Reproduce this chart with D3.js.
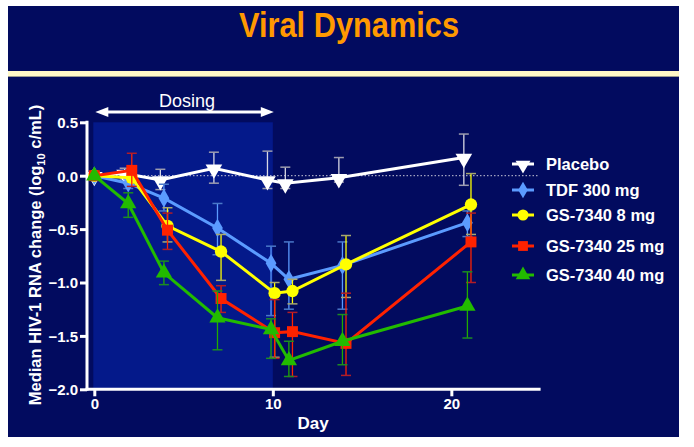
<!DOCTYPE html>
<html><head><meta charset="utf-8">
<script src="https://cdn.jsdelivr.net/npm/d3@7"></script>
<style>html,body{margin:0;padding:0;background:#fff;}svg{display:block;}</style>
</head><body>
<svg id="c" width="694" height="447"></svg>
<script>
const days = [0, 2, 4, 7, 10, 11, 14, 21];
const seriesNames = ["Placebo", "TDF 300 mg", "GS-7340 8 mg", "GS-7340 25 mg", "GS-7340 40 mg"];
const placebo   = [0, 0.02, -0.04, 0.07, -0.04, -0.07, -0.02, 0.17];
const placeboHi = [0, 0.07, 0.06, 0.22, 0.23, 0.08, 0.17, 0.39];
const placeboLo = [0, -0.03, -0.13, -0.07, -0.12, -0.12, -0.06, -0.09];
const tdf   = [0, -0.07, -0.21, -0.49, -0.82, -0.97, -0.84, -0.44];
const tdfHi = [0, -0.03, -0.08, -0.26, -0.66, -0.62, -0.62, -0.33];
const tdfLo = [0, -0.12, -0.33, -0.74, -1.31, -1.25, -1.25, -0.57];
const gs8   = [0, -0.02, -0.47, -0.71, -1.10, -1.08, -0.83, -0.27];
const gs8Hi = [0, 0.02, -0.30, -0.55, -1.00, -0.97, -0.56, 0.02];
const gs8Lo = [0, -0.06, -0.62, -0.98, -1.70, -1.20, -1.14, -0.55];
const gs25   = [0, 0.05, -0.51, -1.15, -1.47, -1.46, -1.57, -0.62];
const gs25Hi = [0, 0.21, -0.35, -1.03, -1.16, -1.28, -1.10, -0.35];
const gs25Lo = [0, -0.10, -0.69, -1.28, -1.71, -1.88, -1.87, -1.00];
const gs40   = [0, -0.26, -0.91, -1.33, -1.44, -1.73, -1.55, -1.22];
const gs40Hi = [0, -0.16, -0.80, -1.08, -1.34, -1.55, -1.30, -0.90];
const gs40Lo = [0, -0.39, -1.02, -1.63, -1.71, -1.88, -1.77, -1.52];
const xTicks = [0, 10, 20];
const yTicks = [0.5, 0.0, -0.5, -1.0, -1.5, -2.0];

const svg = d3.select("#c");
const x = d3.scaleLinear().domain([0, 25]).range([94.3, 540.6]);
const y = d3.scaleLinear().domain([-2, 0.5]).range([389.3, 122.3]);

// background
svg.append("rect").attr("x", 8).attr("y", 6).attr("width", 671).attr("height", 431).attr("fill", "#020b5f");
svg.append("rect").attr("x", 8).attr("y", 71).attr("width", 671).attr("height", 5).attr("fill", "#fff8c8");
svg.append("rect").attr("x", 8).attr("y", 76).attr("width", 671).attr("height", 1).attr("fill", "#9a9a90");

svg.append("text").attr("x", 349).attr("y", 37).attr("text-anchor", "middle")
  .attr("font-family", "'Liberation Sans Narrow','Arial Narrow','Liberation Sans',sans-serif").attr("font-weight", "bold")
  .attr("font-size", 35).attr("textLength", 220).attr("lengthAdjust", "spacingAndGlyphs")
  .attr("fill", "#ff9900").text("Viral Dynamics");

// dosing region
svg.append("rect").attr("x", x(0) - 1).attr("y", y(0.5)).attr("width", x(10) - x(0) + 1)
  .attr("height", y(-2) - y(0.5)).attr("fill", "#04198a");

// dosing arrow
const ay = 112;
svg.append("line").attr("x1", x(0) + 8).attr("x2", x(10) - 8).attr("y1", ay).attr("y2", ay)
  .attr("stroke", "#fff").attr("stroke-width", 3);
svg.append("path").attr("d", `M${x(0)+1},${ay} L${x(0)+14},${ay-5} L${x(0)+14},${ay+5} Z`).attr("fill", "#fff");
svg.append("path").attr("d", `M${x(10)+1},${ay} L${x(10)-12},${ay-5} L${x(10)-12},${ay+5} Z`).attr("fill", "#fff");
svg.append("text").attr("x", 187).attr("y", 107).attr("text-anchor", "middle")
  .attr("font-family", "'Liberation Sans',Arial,sans-serif").attr("font-size", 18).attr("fill", "#fff").text("Dosing");

// zero dotted line
svg.append("line").attr("x1", 88).attr("x2", 538).attr("y1", y(0)).attr("y2", y(0))
  .attr("stroke", "#c8c8d8").attr("stroke-width", 1).attr("stroke-dasharray", "1.5,2");

// axes
const font = "'Liberation Sans',Arial,sans-serif";
const yAxis = svg.append("g").attr("transform", "translate(87,0)")
  .call(d3.axisLeft(y).tickValues(yTicks).tickFormat(d3.format(".1f")).tickSize(7).tickSizeOuter(0));
yAxis.select(".domain").remove();
yAxis.selectAll(".tick line").attr("stroke", "#fff").attr("stroke-width", 3);
yAxis.selectAll(".tick text").attr("fill", "#fff").attr("font-family", font).attr("font-weight", "bold")
  .attr("font-size", 15).attr("x", -9).attr("dy", "0.36em");
svg.append("line").attr("x1", 87).attr("x2", 87).attr("y1", y(0.5) - 1.5).attr("y2", y(-2) + 1.5)
  .attr("stroke", "#fff").attr("stroke-width", 3);

const xAxis = svg.append("g").attr("transform", `translate(0,${y(-2)})`)
  .call(d3.axisBottom(x).tickValues(xTicks).tickSize(7).tickSizeOuter(0));
xAxis.select(".domain").remove();
xAxis.selectAll(".tick line").attr("stroke", "#fff").attr("stroke-width", 3);
xAxis.selectAll(".tick text").attr("fill", "#fff").attr("font-family", font).attr("font-weight", "bold")
  .attr("font-size", 15).attr("y", 9);
svg.append("line").attr("x1", 85.5).attr("x2", x(25)).attr("y1", y(-2)).attr("y2", y(-2))
  .attr("stroke", "#fff").attr("stroke-width", 3);

svg.append("text").attr("x", 313).attr("y", 429).attr("text-anchor", "middle")
  .attr("font-family", font).attr("font-weight", "bold").attr("font-size", 17).attr("fill", "#fff").text("Day");

const yl = svg.append("text").attr("transform", "translate(41,255) rotate(-90)").attr("text-anchor", "middle")
  .attr("font-family", font).attr("font-weight", "bold").attr("font-size", 16.5).attr("fill", "#fff");
yl.append("tspan").text("Median HIV-1 RNA change (log");
yl.append("tspan").attr("font-size", 11).attr("dy", 4).text("10");
yl.append("tspan").attr("dy", -4).text(" c/mL)");

// series
const series = [
  {name: seriesNames[0], v: placebo, hi: placeboHi, lo: placeboLo, color: "#ffffff", bar: "#d8d8e4", cap: "#9c9cae", sym: d3.symbolTriangle, size: 120, rot: 180, nudge: -0.3},
  {name: seriesNames[1], v: tdf, hi: tdfHi, lo: tdfLo, color: "#5b9bff", bar: "#5b9bff", cap: "#4a78c8", sym: d3.symbolDiamond, size: 100, rot: 0, nudge: -0.1},
  {name: seriesNames[2], v: gs8, hi: gs8Hi, lo: gs8Lo, color: "#ffff00", bar: "#ffff00", cap: "#a8a870", sym: d3.symbolCircle, size: 120, rot: 0, nudge: 0.1},
  {name: seriesNames[3], v: gs25, hi: gs25Hi, lo: gs25Lo, color: "#ff2200", bar: "#ff2200", cap: "#b01c28", sym: d3.symbolSquare, size: 120, rot: 0, nudge: 0.1},
  {name: seriesNames[4], v: gs40, hi: gs40Hi, lo: gs40Lo, color: "#22bb00", bar: "#22aa00", cap: "#1c8c22", sym: d3.symbolTriangle, size: 115, rot: 0, nudge: -0.1}
];

const line = d3.line().x(d => x(d[0])).y(d => y(d[1]));
series.forEach(s => {
  const g = svg.append("g");
  const pts = days.map((d, i) => [d === 0 ? 0 : d + s.nudge, s.v[i], s.hi[i], s.lo[i]]);
  pts.forEach(p => {
    if (p[0] === 0) return;
    const px = x(p[0]);
    g.append("line").attr("x1", px).attr("x2", px).attr("y1", y(p[2])).attr("y2", y(p[3]))
      .attr("stroke", s.bar).attr("stroke-width", 1.3);
    [p[2], p[3]].forEach(vv => g.append("line").attr("x1", px - 5).attr("x2", px + 5).attr("y1", y(vv)).attr("y2", y(vv))
      .attr("stroke", s.cap).attr("stroke-width", 1.5));
  });
  g.append("path").attr("d", line(pts)).attr("fill", "none").attr("stroke", s.color).attr("stroke-width", 3);
  pts.forEach(p => {
    g.append("path").attr("d", d3.symbol().type(s.sym).size(s.size)())
      .attr("transform", `translate(${x(p[0])},${y(p[1]) + (s.rot ? 1 : 0)}) rotate(${s.rot})`).attr("fill", s.color);
  });
});

// legend
const legY = [164, 190, 215, 246, 275];
series.forEach((s, i) => {
  const g = svg.append("g").attr("transform", `translate(0,${legY[i]})`);
  g.append("line").attr("x1", 512).attr("x2", 534).attr("y1", 0).attr("y2", 0).attr("stroke", s.color).attr("stroke-width", 3);
  g.append("path").attr("d", d3.symbol().type(s.sym).size(s.size * 0.8)())
    .attr("transform", `translate(523,${s.rot ? 1 : 0}) rotate(${s.rot})`).attr("fill", s.color);
  g.append("text").attr("x", 546).attr("y", 6).attr("font-family", font).attr("font-weight", "bold")
    .attr("font-size", 16.5).attr("fill", "#fff").text(s.name);
});
</script>
</body></html>
